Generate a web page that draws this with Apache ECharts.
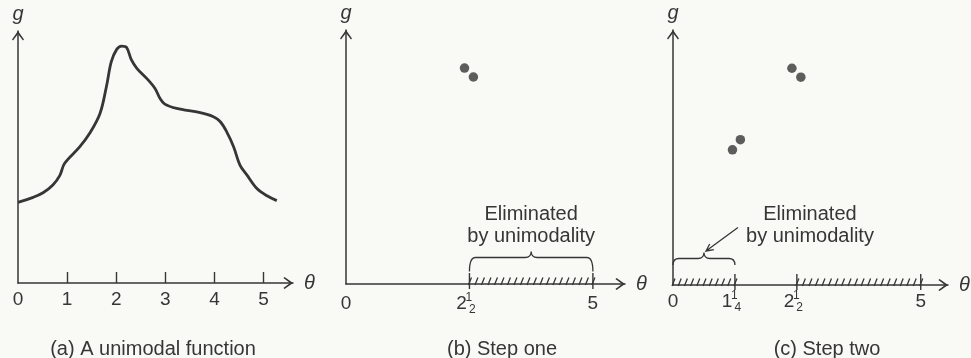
<!DOCTYPE html>
<html>
<head>
<meta charset="utf-8">
<script src="https://cdn.jsdelivr.net/npm/echarts@6/dist/echarts.min.js"></script>
<style>
  html, body { margin: 0; padding: 0; background: #f9f9f6; }
  #chart { width: 971px; height: 358px; }
</style>
</head>
<body>
<div id="chart"></div>
<script>
// ---- data ----------------------------------------------------------------
// (a) a unimodal function g(θ)
const curveTheta = [0, 0.31, 0.51, 0.71, 0.85, 0.95, 1.26, 1.46, 1.67, 1.80, 1.90, 2.01, 2.11, 2.21, 2.31, 2.42, 2.62, 2.79, 2.89, 2.99, 3.23, 3.71, 3.98, 4.12, 4.25, 4.39, 4.52, 4.66, 4.86, 5.07, 5.27];
const curveG     = [3.20, 3.40, 3.58, 3.89, 4.26, 4.75, 5.41, 5.94, 6.73, 7.79, 8.78, 9.27, 9.40, 9.35, 8.85, 8.52, 8.12, 7.72, 7.33, 7.10, 6.93, 6.76, 6.60, 6.40, 6.00, 5.41, 4.68, 4.29, 3.76, 3.46, 3.27];

// (b) step one: first pair of trial points
const stepOneTheta = [2.40, 2.58];
const stepOneG     = [8.50, 8.15];

// (c) step two: second pair of trial points
const stepTwoTheta = [1.20, 1.36];
const stepTwoG     = [5.30, 5.70];

// intervals of θ ruled out by unimodality
const eliminatedOne = [[2.5, 5]];
const eliminatedTwo = [[0, 1.25], [2.5, 5]];

// axis ticks and labels
const ticksA  = [1, 2, 3, 4, 5];
const labelsA = [0, 1, 2, 3, 4, 5];
const labelsB = [0, 2.5, 5];
const labelsC = [0, 1.25, 2.5, 5];

const captions = ['(a) A unimodal function', '(b) Step one', '(c) Step two'];
const noteText = 'Eliminated\nby unimodality';

// ---- styling helpers -----------------------------------------------------
const INK = '#363636';
const FONT = '"Liberation Sans", Arial, Helvetica, sans-serif';
const openArrow = 'path://M10,0L20,14L18.3,16L10,5L1.7,16L0,14Z';

function axisLine() {
  return {
    show: true,
    symbol: ['none', openArrow],
    symbolSize: [12, 9.6],
    symbolOffset: [0, -4.8],
    lineStyle: { color: INK, width: 1.5 }
  };
}

// mixed numbers such as 2½ are set with a small stacked fraction
const fractionParts = { '0.5': [1, 2], '0.25': [1, 4] };
function mixedLabel(v) {
  const whole = Math.floor(v);
  const f = fractionParts[String(v - whole)];
  if (!f) return '{w|' + v + '}';
  return '{w|' + whole + '}{g| }{n|' + f[0] + '}{d|' + f[1] + '}{e| }';
}
const labelRich = {
  w: { fontSize: 19, lineHeight: 24, fontFamily: FONT, color: INK },
  g: { width: 2, fontSize: 19, lineHeight: 24 },
  n: { fontSize: 12, lineHeight: 10, verticalAlign: 'top', width: 0, fontFamily: FONT, color: INK },
  d: { fontSize: 12, lineHeight: 14, verticalAlign: 'bottom', fontFamily: FONT, color: INK },
  e: { width: 7, fontSize: 19, lineHeight: 24 }
};

function thetaAxis(gridIndex, max, labelValues, tickValues, margin, namePad) {
  return {
    type: 'value', gridIndex: gridIndex, min: 0, max: max,
    axisLine: axisLine(),
    axisTick: tickValues
      ? { show: true, inside: true, length: 11, customValues: tickValues, lineStyle: { color: INK, width: 1.4 } }
      : { show: false },
    axisLabel: { show: true, customValues: labelValues, margin: margin, formatter: mixedLabel, rich: labelRich, color: INK },
    splitLine: { show: false },
    name: 'θ', nameLocation: 'end', nameGap: 11,
    nameTextStyle: { fontStyle: 'italic', fontSize: 20, fontFamily: FONT, color: INK, verticalAlign: 'middle', padding: [namePad, 0, 0, 0] }
  };
}

function gAxis(gridIndex) {
  return {
    type: 'value', gridIndex: gridIndex, min: 0, max: 10,
    axisLine: axisLine(),
    axisTick: { show: false },
    axisLabel: { show: false },
    splitLine: { show: false },
    name: 'g', nameLocation: 'end', nameGap: 7,
    nameTextStyle: { fontStyle: 'italic', fontSize: 20, fontFamily: FONT, color: INK, align: 'center' }
  };
}

function pairs(xs, ys) { return xs.map(function (x, i) { return [x, ys[i]]; }); }

function trialPoints(axisIndex, xs, ys) {
  return { type: 'scatter', xAxisIndex: axisIndex, yAxisIndex: axisIndex, data: pairs(xs, ys),
    symbolSize: 9.5, silent: true, itemStyle: { color: INK } };
}

// hatching over an eliminated interval, boundary ticks, and a brace with its note
function eliminatedSeries(axisIndex, intervals, look) {
  return {
    type: 'custom', xAxisIndex: axisIndex, yAxisIndex: axisIndex,
    data: intervals, silent: true, encode: { x: [0, 1] },
    renderItem: function (params, api) {
      const s = api.value(0), e = api.value(1);
      const a = api.coord([s, 0]);
      const b = api.coord([e, 0]);
      const y = a[1];
      const children = [];
      const len = b[0] - a[0];
      const n = Math.round(len / 6.5);
      const step = len / n;
      let hatch = '';
      for (let i = 0; i <= n; i++) {
        const x = a[0] - 1 + i * step;
        hatch += 'M' + x + ',' + (y + 1) + 'L' + (x + 3) + ',' + (y - 6.5);
      }
      children.push({ type: 'path', shape: { pathData: hatch }, style: { stroke: INK, lineWidth: 1.3, fill: 'none' } });
      [[s, a], [e, b]].forEach(function (p) {
        if (p[0] > 0) {
          children.push({ type: 'line', shape: { x1: p[1][0], y1: y - 11, x2: p[1][0], y2: y + 5 }, style: { stroke: INK, lineWidth: 1.4 } });
        }
      });
      if (params.dataIndex === look.braceIndex) {
        const x0 = a[0], x1 = b[0], xm = (x0 + x1) / 2;
        const yEnd = y - look.braceDepth, yFlat = y - 26.5, yCusp = y - 32.5, r = 6;
        const brace = 'M' + x0 + ',' + yEnd +
          'Q' + x0 + ',' + yFlat + ' ' + (x0 + r) + ',' + yFlat +
          'L' + (xm - r) + ',' + yFlat +
          'Q' + xm + ',' + yFlat + ' ' + xm + ',' + yCusp +
          'Q' + xm + ',' + yFlat + ' ' + (xm + r) + ',' + yFlat +
          'L' + (x1 - r) + ',' + yFlat +
          'Q' + x1 + ',' + yFlat + ' ' + x1 + ',' + yEnd;
        children.push({ type: 'path', shape: { pathData: brace }, style: { stroke: INK, lineWidth: 1.3, fill: 'none' } });
        children.push({
          type: 'text', x: xm + look.noteDx, y: yCusp + look.noteDy,
          style: { text: noteText, fontSize: 20, fontFamily: FONT, fill: INK, align: 'center', verticalAlign: 'middle', lineHeight: 22 }
        });
        if (look.arrow) {
          const tip = [xm + 2, yCusp - 1.5];
          const tail = [tip[0] + 32, tip[1] - 23.5];
          const dx = tail[0] - tip[0], dy = tail[1] - tip[1];
          const L = Math.sqrt(dx * dx + dy * dy);
          const ux = dx / L, uy = dy / L;
          const ang = 0.45, h = 8;
          const c = Math.cos(ang), sn = Math.sin(ang);
          const h1 = [tip[0] + h * (ux * c - uy * sn), tip[1] + h * (ux * sn + uy * c)];
          const h2 = [tip[0] + h * (ux * c + uy * sn), tip[1] + h * (-ux * sn + uy * c)];
          const arrow = 'M' + tail[0] + ',' + tail[1] + 'L' + tip[0] + ',' + tip[1] +
            'M' + h1[0] + ',' + h1[1] + 'L' + tip[0] + ',' + tip[1] + 'L' + h2[0] + ',' + h2[1];
          children.push({ type: 'path', shape: { pathData: arrow }, style: { stroke: INK, lineWidth: 1.3, fill: 'none' } });
        }
      }
      return { type: 'group', children: children };
    }
  };
}

const captionX = [148, 497, 822];

const option = {
  backgroundColor: '#f9f9f6',
  animation: false,
  title: captions.map(function (t, i) {
    return { text: t, left: captionX[i], top: 334, textAlign: 'center',
      textStyle: { fontSize: 20, fontWeight: 'normal', fontFamily: FONT, color: INK } };
  }),
  grid: [
    { left: 18,  top: 31, width: 275, bottom: 75, containLabel: false, outerBoundsMode: 'none' },
    { left: 346, top: 30, width: 279, bottom: 74, containLabel: false, outerBoundsMode: 'none' },
    { left: 673, top: 30, width: 275, bottom: 73, containLabel: false, outerBoundsMode: 'none' }
  ],
  xAxis: [
    thetaAxis(0, 5.6, labelsA, ticksA, 5, 11),
    thetaAxis(1, 5.65, labelsB, null, 8, 4),
    thetaAxis(2, 5.55, labelsC, null, 5, 5)
  ],
  yAxis: [gAxis(0), gAxis(1), gAxis(2)],
  series: [
    { type: 'line', xAxisIndex: 0, yAxisIndex: 0, data: pairs(curveTheta, curveG),
      smooth: 0.35, symbol: 'none', silent: true, lineStyle: { color: INK, width: 2.8 } },
    trialPoints(1, stepOneTheta, stepOneG),
    trialPoints(2, stepOneTheta, stepOneG),
    trialPoints(2, stepTwoTheta, stepTwoG),
    eliminatedSeries(1, eliminatedOne, { braceIndex: 0, braceDepth: 12.5, noteDx: 0, noteDy: -26.5, arrow: false }),
    eliminatedSeries(2, eliminatedTwo, { braceIndex: 0, braceDepth: 20, noteDx: 106, noteDy: -27.5, arrow: true })
  ]
};

const chart = echarts.init(document.getElementById('chart'), null, { renderer: 'canvas' });
chart.setOption(option);
</script>
</body>
</html>
